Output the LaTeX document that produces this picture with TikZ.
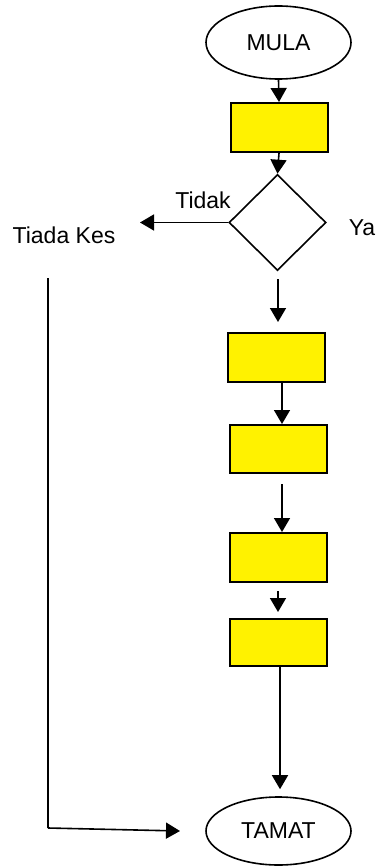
\documentclass[tikz,border=0pt]{standalone}
\usepackage{fontspec}
\setmainfont{Liberation Sans}
\usetikzlibrary{shapes.geometric,arrows.meta,calc}
\begin{document}
\begin{tikzpicture}[x=1pt,y=-1pt,
  every node/.style={font=\fontsize{23}{27}\selectfont},
  term/.style={ellipse,draw,line width=1.6pt,inner sep=0pt},
  procbox/.style={rectangle,draw,fill=yellow,line width=2pt,minimum width=97pt,minimum height=49pt,inner sep=0pt},
  decbox/.style={diamond,draw,fill=white,line width=1.6pt,minimum width=97pt,minimum height=96pt,inner sep=0pt},
  lbl/.style={inner sep=0pt},
  arr/.style={line width=1.6pt,-{Triangle[width=16pt,length=14pt]}},
  plain/.style={line width=1.6pt}]
\useasboundingbox (0,0) rectangle (381,866);
\node[term,minimum width=145pt,minimum height=73pt] (mula) at (278.5,42.5) {MULA};
\node[procbox] (r1) at (279,127.5) {};
\node[decbox] (d) at (277.5,222.5) {};
\node[lbl] (tiada) at (64,235) {Tiada Kes};
\node[lbl] (tidak) at (203,200) {Tidak};
\node[lbl] (ya) at (362,228) {Ya};
\node[procbox] (r2) at (276.5,357.5) {};
\node[procbox,minimum height=48pt] (r3) at (278.5,449) {};
\node[procbox] (r4) at (278.5,557.5) {};
\node[procbox,minimum height=47pt] (r5) at (278.5,642.5) {};
\node[term,minimum width=145pt,minimum height=68pt] (tamat) at (278.5,831) {TAMAT};
\coordinate (tidakEnd) at (140,222.5);
\coordinate (lstart) at (48,278);
\coordinate (lcorner) at (48,828);
\coordinate (lend) at (180,831);
\draw[arr] (mula.south) -- (r1.north);
\draw[arr] (r1.south) -- (d.north);
\draw[arr] (d.west) -- (tidakEnd);
\draw[arr,shorten <=8pt,shorten >=10pt] ([xshift=0.5pt]d.south) -- ([xshift=0.5pt]d.south |- r2.north);
\draw[arr] ([xshift=5.5pt]r2.south) -- ([xshift=5.5pt]r2.south |- r3.north);
\draw[arr,shorten <=10pt] ([xshift=3.5pt]r3.south) -- ([xshift=3.5pt]r3.south |- r4.north);
\draw[arr,shorten <=8pt,shorten >=6pt] ([xshift=-0.5pt]r4.south) -- ([xshift=-0.5pt]r4.south |- r5.north);
\draw[arr,shorten >=7pt] ([xshift=1.5pt]r5.south) -- ([xshift=1.5pt]r5.south |- tamat.north);
\draw[plain] (lstart) -- (lcorner);
\draw[arr] (lcorner) -- (lend);
\end{tikzpicture}
\end{document}
